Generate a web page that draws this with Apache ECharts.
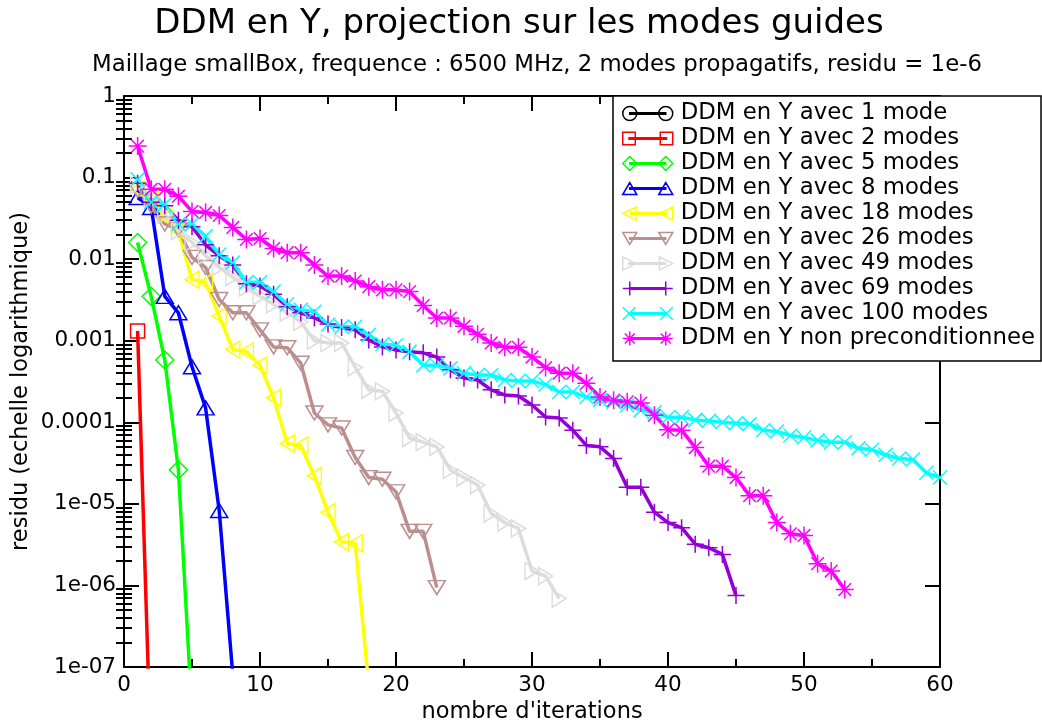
<!DOCTYPE html>
<html>
<head>
<meta charset="utf-8">
<title>DDM en Y, projection sur les modes guides</title>
<script src="https://cdn.jsdelivr.net/npm/echarts@6/dist/echarts.min.js"></script>
<style>
  html, body { margin: 0; padding: 0; background: #ffffff; }
  #chart { width: 1042px; height: 720px; }
</style>
</head>
<body>
<div id="chart"></div>
<script>
// Residual history of the Y-direction DDM solver, one array per number of guided modes.
// Values are listed for iterations 1, 2, 3, ...
const seriesNames = [
  'DDM en Y avec 1 mode',
  'DDM en Y avec 2 modes',
  'DDM en Y avec 5 modes',
  'DDM en Y avec 8 modes',
  'DDM en Y avec 18 modes',
  'DDM en Y avec 26 modes',
  'DDM en Y avec 49 modes',
  'DDM en Y avec 69 modes',
  'DDM en Y avec 100 modes',
  'DDM en Y non preconditionnee'
];

const residu1 = [];
const residu2 = [0.00132, 6e-9];
const residu5 = [0.016, 0.0035, 0.00058, 2.6e-5, 2.7e-8];
const residu8 = [0.057, 0.043, 0.0035, 0.0022, 0.00048, 0.00015, 8.3e-6, 8e-8];
const residu18 = [0.072, 0.054, 0.033, 0.022, 0.0056, 0.0052, 0.002, 0.00078, 0.00074, 0.0005,
  0.0002, 5.5e-5, 5.2e-5, 2.2e-5, 7.9e-6, 3.4e-6, 3.3e-6, 5.9e-8];
const residu26 = [0.07, 0.045, 0.027, 0.023, 0.0105, 0.0079, 0.0032, 0.0022, 0.0022, 0.00136,
  0.00084, 0.00082, 0.00053, 0.00013, 9.3e-5, 8.5e-5, 3.7e-5, 2.1e-5, 2.0e-5, 1.4e-5,
  4.6e-6, 4.6e-6, 9.4e-7];
const residu49 = [0.08, 0.055, 0.035, 0.022, 0.016, 0.011, 0.008, 0.006, 0.0045, 0.0035,
  0.0028, 0.0022, 0.0017, 0.001, 0.00094, 0.00094, 0.00047, 0.00025, 0.00024, 0.00013,
  6.4e-5, 5.7e-5, 5e-5, 2.6e-5, 2.1e-5, 1.7e-5, 7.6e-6, 5.9e-6, 5e-6, 1.5e-6,
  1.3e-6, 6.9e-7];
const residu69 = [0.085, 0.05, 0.045, 0.03, 0.025, 0.015, 0.011, 0.0085, 0.005, 0.0047,
  0.0037, 0.0026, 0.0022, 0.0019, 0.0016, 0.00145, 0.00136, 0.00102, 0.00084, 0.00077,
  0.00073, 0.00071, 0.00063, 4.4e-4, 3.5e-4, 3.3e-4, 2.5e-4, 2.16e-4, 2.1e-4, 1.63e-4,
  1.16e-4, 1.13e-4, 8e-5, 5.2e-5, 5e-5, 3.6e-5, 1.6e-5, 1.6e-5, 7.9e-6, 5.9e-6,
  5.1e-6, 3.2e-6, 2.9e-6, 2.4e-6, 7.5e-7];
const residu100 = [0.095, 0.05, 0.047, 0.027, 0.027, 0.019, 0.0114, 0.0091, 0.0052, 0.0052,
  0.004, 0.0028, 0.0024, 0.00226, 0.00158, 0.00148, 0.00148, 0.00118, 0.00091, 0.00088,
  0.00073, 0.0005, 0.0005, 0.00046, 0.0004, 0.00038, 0.00038, 0.00033, 0.00032, 0.00032,
  0.00029, 0.000235, 0.000235, 0.000204, 0.000187, 0.000178, 0.000162, 0.000141, 0.000133, 0.000115,
  0.000115, 0.000107, 0.000104, 1e-4, 9.7e-5, 9.5e-5, 8e-5, 7.7e-5, 6.9e-5, 6.5e-5,
  6e-5, 5.7e-5, 5.7e-5, 4.8e-5, 4.6e-5, 4e-5, 3.6e-5, 3.5e-5, 2.4e-5, 2.1e-5];
const residuNonPrec = [0.243, 0.0718, 0.0718, 0.059, 0.0385, 0.0374, 0.0343, 0.0245, 0.0174, 0.0179,
  0.0135, 0.012, 0.012, 0.0085, 0.0062, 0.0062, 0.0054, 0.0046, 0.0042, 0.0042,
  0.004, 0.0027, 0.0019, 0.0019, 0.0015, 0.0012, 0.00094, 0.00083, 0.00083, 0.00063,
  0.00047, 0.0004, 0.0004, 0.0003, 0.000204, 0.000186, 0.000178, 0.000172, 0.000122, 8.1e-5,
  8e-5, 4.9e-5, 2.9e-5, 2.9e-5, 2.1e-5, 1.26e-5, 1.26e-5, 5.9e-6, 4.3e-6, 4.1e-6,
  1.85e-6, 1.5e-6, 8.9e-7];

const allResidus = [residu1, residu2, residu5, residu8, residu18, residu26,
  residu49, residu69, residu100, residuNonPrec];

// Axis ticks
const yTickValues = [1e-7, 1e-6, 1e-5, 1e-4, 1e-3, 1e-2, 1e-1, 1];
const yTickLabels = ['1e-07', '1e-06', '1e-05', '0.0001', '0.001', '0.01', '0.1', '1'];

// Logarithmic minor ticks (2..9 in every decade)
const yMinorValues = [];
for (let e = -7; e < 0; e++) {
  for (let m = 2; m <= 9; m++) yMinorValues.push(m * Math.pow(10, e));
}

const FONT = 'DejaVu Sans';

// Marker shapes used on the curves
const PLUS = 'path://M5,0 L5,10 M0,5 L10,5';
const CROSS = 'path://M0,0 L10,10 M10,0 L0,10';
const STAR = 'path://M5,0 L5,10 M0,5 L10,5 M1.5,1.5 L8.5,8.5 M8.5,1.5 L1.5,8.5';

// Legend icons: a thick segment with the marker drawn at both ends (50 x 14 box)
const BAND = 'M7,6.25 L43,6.25 L43,7.75 L7,7.75 Z';
function twice(fn) { return fn(0) + ' ' + fn(36); }
const legendIcons = [
  'path://' + BAND + ' ' + twice(d => `M${d},7 A7,7 0 1,0 ${d + 14},7 A7,7 0 1,0 ${d},7 Z`),
  'path://' + BAND + ' ' + twice(d => `M${d + 1},1 L${d + 13},1 L${d + 13},13 L${d + 1},13 Z`),
  'path://' + BAND + ' ' + twice(d => `M${d},7 L${d + 7},0 L${d + 14},7 L${d + 7},14 Z`),
  'path://' + BAND + ' ' + twice(d => `M${d},13 L${d + 7},1 L${d + 14},13 Z`),
  'path://' + BAND + ' ' + twice(d => `M${d},7 L${d + 13},0.5 L${d + 13},13.5 Z`),
  'path://' + BAND + ' ' + twice(d => `M${d},1 L${d + 14},1 L${d + 7},13 Z`),
  'path://' + BAND + ' ' + twice(d => `M${d + 1},0.5 L${d + 14},7 L${d + 1},13.5 Z`),
  'path://' + BAND + ' ' + twice(d => `M${d + 7},0 L${d + 7},14 M${d},7 L${d + 14},7`),
  'path://' + BAND + ' ' + twice(d => `M${d + 1},1 L${d + 13},13 M${d + 13},1 L${d + 1},13`),
  'path://' + BAND + ' ' + twice(d => `M${d + 7},0 L${d + 7},14 M${d},7 L${d + 14},7 M${d + 2},2 L${d + 12},12 M${d + 12},2 L${d + 2},12`)
];

const styles = [
  { color: '#000000', symbol: 'circle', size: 14, rotate: 0 },
  { color: '#ff0000', symbol: 'rect', size: 14, rotate: 0 },
  { color: '#00ff00', symbol: 'diamond', size: 18, rotate: 0 },
  { color: '#0000ff', symbol: 'triangle', size: [17, 14], rotate: 0 },
  { color: '#ffff00', symbol: 'triangle', size: [17, 14], rotate: 90 },
  { color: '#bc8f8f', symbol: 'triangle', size: [17, 14], rotate: 180 },
  { color: '#dcdcdc', symbol: 'triangle', size: [17, 14], rotate: -90 },
  { color: '#9400d3', symbol: PLUS, size: 17, rotate: 0 },
  { color: '#00ffff', symbol: CROSS, size: 14, rotate: 0 },
  { color: '#ff00ff', symbol: STAR, size: 18, rotate: 0 }
];

const series = seriesNames.map((name, k) => {
  const st = styles[k];
  return {
    name: name,
    type: 'line',
    xAxisIndex: 0,
    yAxisIndex: 0,
    data: allResidus[k].map((v, i) => [i + 1, v]),
    symbol: st.symbol,
    symbolSize: st.size,
    symbolRotate: st.rotate,
    showAllSymbol: true,
    clip: true,
    animation: false,
    lineStyle: { color: st.color, width: 3.5 },
    itemStyle: { color: 'rgba(255,255,255,0)', borderColor: st.color, borderWidth: 1.5 },
    emphasis: { disabled: true }
  };
});

const legendData = seriesNames.map((name, k) => ({
  name: name,
  icon: legendIcons[k],
  itemStyle: { color: 'rgba(255,255,255,0)', borderColor: styles[k].color, borderWidth: 1.5 }
}));

function yLabel(v) {
  const e = Math.round(Math.log10(v));
  return yTickLabels[e + 7];
}

const axisLine = { show: true, onZero: false, lineStyle: { color: '#000', width: 2 } };
const majorTick = len => ({ show: true, inside: true, length: len, lineStyle: { color: '#000', width: 2 } });

const option = {
  backgroundColor: '#ffffff',
  animation: false,
  textStyle: { fontFamily: FONT },
  title: [
    {
      text: 'DDM en Y, projection sur les modes guides',
      left: 514, top: 2, textAlign: 'center',
      textStyle: { fontFamily: FONT, fontSize: 34, fontWeight: 'normal', color: '#000' }
    },
    {
      text: 'Maillage smallBox, frequence : 6500 MHz, 2 modes propagatifs, residu = 1e-6',
      left: 532, top: 49, textAlign: 'center',
      textStyle: { fontFamily: FONT, fontSize: 22.8, fontWeight: 'normal', color: '#000' }
    }
  ],
  grid: { left: 124, right: 102, top: 96, bottom: 53, containLabel: false, outerBoundsMode: 'none' },
  legend: {
    orient: 'vertical',
    left: 613, top: 96,
    padding: [6, 6, 11, 9],
    itemGap: 2,
    itemWidth: 50,
    itemHeight: 14,
    backgroundColor: '#ffffff',
    borderColor: '#000000',
    borderWidth: 1.5,
    borderRadius: 0,
    selectedMode: false,
    textStyle: { fontFamily: FONT, fontSize: 22.8, color: '#000', lineHeight: 22, padding: [0, 0, 0, 3] },
    data: legendData
  },
  xAxis: [
    {
      type: 'value', position: 'bottom', min: 0, max: 60, interval: 10,
      axisLine: axisLine,
      axisTick: majorTick(15),
      minorTick: { show: true, splitNumber: 2, length: 8, lineStyle: { color: '#000', width: 2 } },
      axisLabel: { show: true, fontFamily: FONT, fontSize: 21.5, color: '#000', margin: 7 },
      splitLine: { show: false },
      name: "nombre d'iterations",
      nameLocation: 'middle', nameGap: 29,
      nameTextStyle: { fontFamily: FONT, fontSize: 22.5, color: '#000' }
    },
    {
      type: 'value', position: 'top', min: 0, max: 60, interval: 10,
      axisLine: axisLine,
      axisTick: majorTick(15),
      minorTick: { show: true, splitNumber: 2, length: 8, lineStyle: { color: '#000', width: 2 } },
      axisLabel: { show: false },
      splitLine: { show: false }
    }
  ],
  yAxis: [
    {
      type: 'log', logBase: 10, position: 'left', min: 1e-7, max: 1,
      axisLine: axisLine,
      axisTick: Object.assign(majorTick(15), { customValues: yTickValues }),
      axisLabel: { show: true, customValues: yTickValues, formatter: yLabel,
        fontFamily: FONT, fontSize: 21.5, color: '#000', margin: 8 },
      splitLine: { show: false },
      name: 'residu (echelle logarithmique)',
      nameLocation: 'middle', nameGap: 91, nameRotate: 90, nameMoveOverlap: false,
      nameTextStyle: { fontFamily: FONT, fontSize: 22.5, color: '#000' }
    },
    {
      type: 'log', logBase: 10, position: 'right', min: 1e-7, max: 1,
      axisLine: axisLine,
      axisTick: Object.assign(majorTick(15), { customValues: yTickValues }),
      axisLabel: { show: false },
      splitLine: { show: false }
    },
    {
      type: 'log', logBase: 10, position: 'left', min: 1e-7, max: 1,
      axisLine: { show: false },
      axisTick: Object.assign(majorTick(8), { customValues: yMinorValues }),
      axisLabel: { show: false },
      splitLine: { show: false }
    },
    {
      type: 'log', logBase: 10, position: 'right', min: 1e-7, max: 1,
      axisLine: { show: false },
      axisTick: Object.assign(majorTick(8), { customValues: yMinorValues }),
      axisLabel: { show: false },
      splitLine: { show: false }
    }
  ],
  series: series
};

const chart = echarts.init(document.getElementById('chart'), null, { renderer: 'canvas' });
chart.setOption(option);
</script>
</body>
</html>
